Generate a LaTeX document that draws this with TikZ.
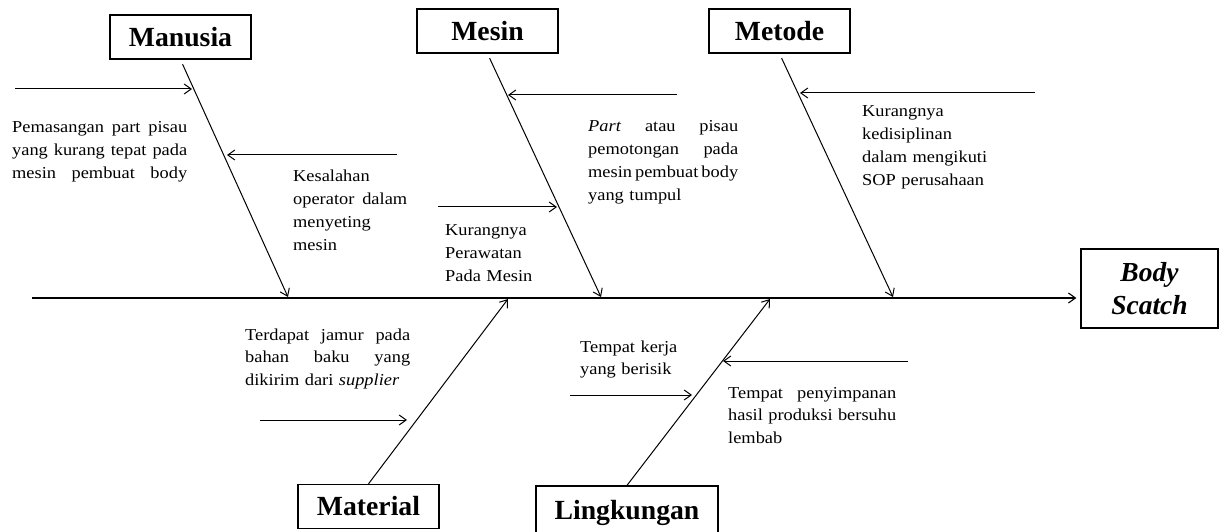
\documentclass[tikz,border=0pt]{standalone}
\usepackage{fontspec}
\setmainfont{Liberation Serif}
\newfontfamily\causefont[FakeStretch=1.1]{Liberation Serif}
\usetikzlibrary{arrows.meta,calc}
\newcommand{\fullline}[1]{\makebox[\hsize][s]{\spaceskip=.25em plus 1fil minus .15em\relax #1}}

\begin{document}
\begin{tikzpicture}[
    x=1pt,
    y=-1pt,
    >={Straight Barb[length=7pt,width=10pt]},
    cat/.style={
        draw=black,
        line width=1.3pt,
        minimum width=141pt,
        minimum height=44pt,
        inner sep=0pt,
        align=center,
        font=\bfseries\fontsize{27.7}{33}\selectfont
    },
    cause/.style={
        anchor=base west,
        inner sep=0pt,
        align=left,
        font=\causefont\fontsize{16.7}{22.7}\selectfont
    },
    bone/.style={->, line width=1.1pt},
    arr/.style={->, line width=1pt}
]
\useasboundingbox (0,0) rectangle (1219,532);

% head and spine
\node[cat, minimum width=137pt, minimum height=79pt,
      font=\bfseries\itshape\fontsize{27.5}{33}\selectfont] (body) at (1149.5,288.5)
{Body\\Scatch};
\coordinate (tail) at (32,298);
\draw[bone, shorten >=4pt] (tail) -- (tail -| body.west);

% category boxes: top row
\node[cat] (manusia) at (180.5,37) {Manusia};
\node[cat] (mesin) at (487.5,31) {Mesin};
\node[cat] (metode) at (779.5,31) {Metode};

% category boxes: bottom row
\node[cat] (material) at (368.5,506.5) {Material};
\node[cat, minimum width=182pt, minimum height=54pt] (lingkungan) at (627,513) {Lingkungan};

% where the bones meet the spine
\coordinate (sManusia) at (288,297);
\coordinate (sMesin) at (601,297);
\coordinate (sMetode) at (893,297);
\coordinate (sMaterial) at (508,299);
\coordinate (sLingkungan) at (770,299);

\draw[arr, shorten <=5pt] (manusia.south) -- (sManusia);
\draw[arr, shorten <=5pt] (mesin.south) -- (sMesin);
\draw[arr, shorten <=5pt] (metode.south) -- (sMetode);
\draw[arr] (material.north) -- (sMaterial);
\draw[arr] (lingkungan.north) -- (sLingkungan);

% causes: Manusia
\coordinate (mA0) at (15,89);    \coordinate (mA1) at (192,89);
\coordinate (mB0) at (397,155);  \coordinate (mB1) at (227,155);
\draw[arr] (mA0) -- (mA1);
\draw[arr] (mB0) -- (mB1);
\node[cause, text width=175pt] (tManusiaA) at (12,133)
{\fullline{Pemasangan part pisau}\\
\fullline{yang kurang tepat pada}\\
\fullline{mesin pembuat body}};
\node[cause, text width=114pt] (tManusiaB) at (293,182)
{Kesalahan\\
\fullline{operator dalam}\\
menyeting\\
mesin};

% causes: Mesin
\coordinate (eA0) at (438,207);  \coordinate (eA1) at (557,207);
\coordinate (eB0) at (677,95);   \coordinate (eB1) at (508,95);
\draw[arr] (eA0) -- (eA1);
\draw[arr] (eB0) -- (eB1);
\node[cause, text width=100pt] (tMesinA) at (445,236)
{Kurangnya\\
Perawatan\\
Pada Mesin};
\node[cause, text width=150pt] (tMesinB) at (588,132)
{\fullline{\textit{Part} atau pisau}\\
\fullline{pemotongan pada}\\
\fullline{mesin pembuat body}\\
yang tumpul};

% causes: Metode
\coordinate (dA0) at (1035,93);  \coordinate (dA1) at (800,93);
\draw[arr] (dA0) -- (dA1);
\node[cause, text width=160pt] (tMetode) at (862,117)
{Kurangnya\\
kedisiplinan\\
dalam mengikuti\\
SOP perusahaan};

% causes: Material
\coordinate (aA0) at (260,420);  \coordinate (aA1) at (407,420);
\draw[arr] (aA0) -- (aA1);
\node[cause, text width=165pt] (tMaterial) at (245,340)
{\fullline{Terdapat jamur pada}\\
\fullline{bahan baku yang}\\
dikirim dari \textit{supplier}};

% causes: Lingkungan
\coordinate (lA0) at (570,395);  \coordinate (lA1) at (692,395);
\coordinate (lB0) at (908,361);  \coordinate (lB1) at (723,361);
\draw[arr] (lA0) -- (lA1);
\draw[arr] (lB0) -- (lB1);
\node[cause, text width=120pt] (tLingA) at (580,352)
{Tempat kerja\\
yang berisik};
\node[cause, text width=168pt] (tLingB) at (728,398)
{\fullline{Tempat penyimpanan}\\
\fullline{hasil produksi bersuhu}\\
lembab};

\end{tikzpicture}
\end{document}
